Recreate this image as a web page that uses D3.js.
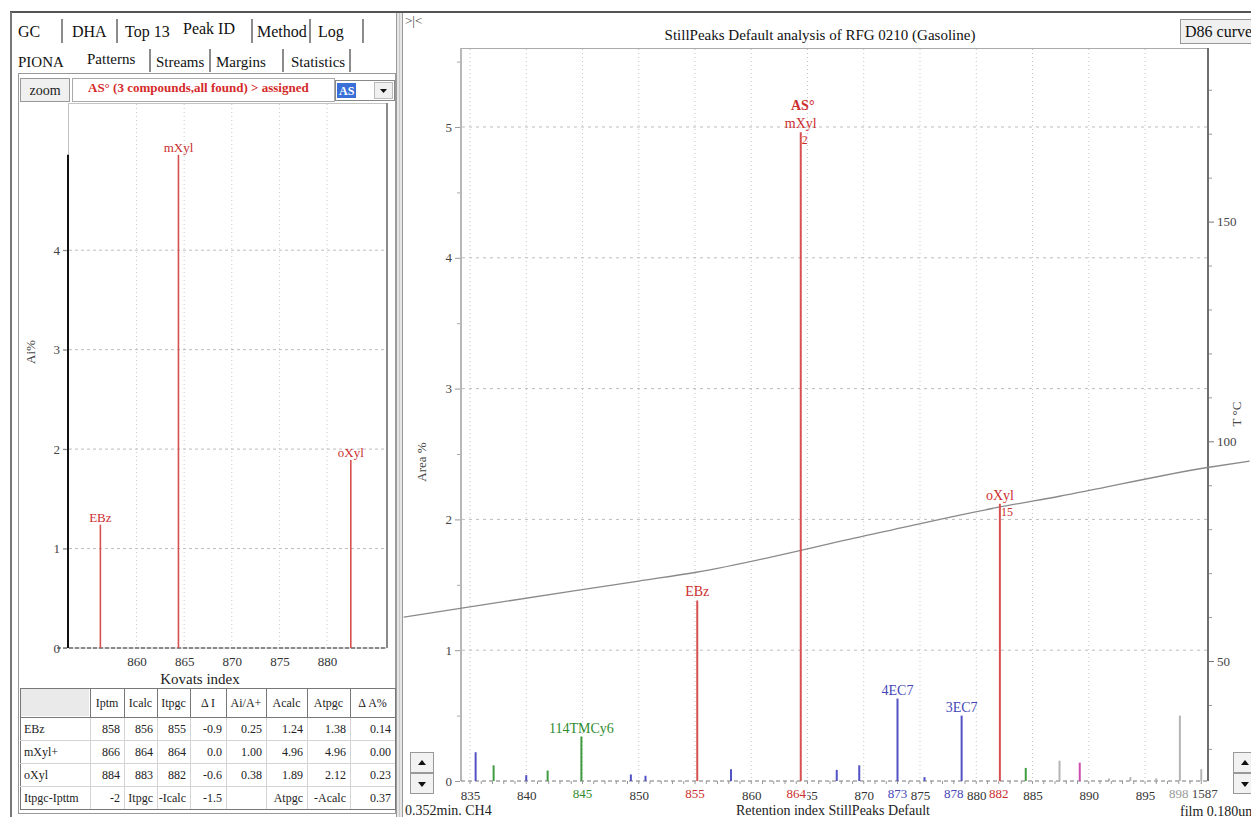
<!DOCTYPE html>
<html>
<head>
<meta charset="utf-8">
<script src="https://cdn.jsdelivr.net/npm/d3@7"></script>
<style>
body { margin: 0; background: #fff; }
svg { display: block; font-family: "Liberation Serif", "Times New Roman", serif; }
</style>
</head>
<body>
<svg id="chart" width="1251" height="817"></svg>
<script>
// ---- data ----
const mainTabs = ["GC", "DHA", "Top 13", "Peak ID", "Method", "Log"];
const subTabs = ["PIONA", "Patterns", "Streams", "Margins", "Statistics"];
const patternTitle = "AS° (3 compounds,all found) > assigned";
const patternCode = "AS";

// left pattern plot (Kovats index vs Ai%)
const patternNames = ["EBz", "mXyl", "oXyl"];
const patternKovats = [856.2, 864.4, 882.5];
const patternAi = [1.24, 4.96, 1.89];
const kovatsTicks = [860, 865, 870, 875, 880];
const aiTicks = [0, 1, 2, 3, 4];

// pattern table
const tableHeader = ["", "Iptm", "Icalc", "Itpgc", "Δ I", "Ai/A+", "Acalc", "Atpgc", "Δ A%"];
const tableRows = [
    ["EBz", "858", "856", "855", "-0.9", "0.25", "1.24", "1.38", "0.14"],
    ["mXyl+", "866", "864", "864", "0.0", "1.00", "4.96", "4.96", "0.00"],
    ["oXyl", "884", "883", "882", "-0.6", "0.38", "1.89", "2.12", "0.23"],
    ["Itpgc-Ipttm", "-2", "Itpgc", "-Icalc", "-1.5", "", "Atpgc", "-Acalc", "0.37"]
];

// main chromatogram (retention index vs Area %)
const peakIndex = [835.5, 837.1, 840.0, 841.9, 844.9, 849.3, 850.6, 855.2, 858.2, 864.4, 867.6, 869.6,
    873.0, 875.4, 878.7, 882.1, 884.4, 887.4, 889.2, 891.8, 893.7, 896.0, 898.1, 900.0];
const peakArea = [0.22, 0.12, 0.045, 0.08, 0.34, 0.05, 0.04, 1.38, 0.09, 4.96, 0.085, 0.12,
    0.63, 0.03, 0.50, 2.12, 0.10, 0.155, 0.14, 0.02, 0.03, 0.02, 0.50, 0.09];
const peakGroup = ["b", "g", "b", "g", "g", "b", "b", "r", "b", "r", "b", "b",
    "b", "b", "b", "r", "g", "k", "m", "k", "k", "k", "k", "k"];
const peakName = ["", "", "", "", "114TMCy6", "", "", "EBz", "", "mXyl", "", "",
    "4EC7", "", "3EC7", "oXyl", "", "", "", "", "", "", "", ""];
const peakNo = ["", "", "", "", "", "", "", "", "", "2", "", "",
    "", "", "", "15", "", "", "", "", "", "", "", ""];
const groupTitle = "AS°";
const groupTitlePeak = "mXyl";

const indexTicks = [835, 840, 845, 850, 855, 860, 865, 870, 875, 880, 885, 890, 895];
const idTicks = [845, 855, 864, 873, 878, 882, 898];
const idTickGroup = ["g", "r", "r", "b", "b", "r", "k"];
const endTickLabel = "1587";
const areaTicks = [0, 1, 2, 3, 4, 5];
const tempTicks = [50, 100, 150];

// oven temperature curve
const tempIndex = [829.1, 836.7, 850.0, 855.1, 869.6, 882.0, 887.4, 900.7, 904.3];
const tempValue = [60.0, 63.0, 68.2, 70.2, 78.2, 85.0, 87.5, 94.1, 95.5];

const chartTitle = "StillPeaks Default analysis of RFG 0210 (Gasoline)";

// ---- styling ----
const lineColor = { r: "#d65050", b: "#5252c4", g: "#3f9c3f", k: "#b4b4b4", m: "#cc4fb0" };
const textColor = { r: "#cc2e2e", b: "#4545b8", g: "#2f8c2f", k: "#9a9a9a", m: "#cc4fb0" };

const svg = d3.select("#chart");

// ---- window frame ----
svg.append("line").attr("x1", 10).attr("x2", 1251).attr("y1", 12).attr("y2", 12)
    .attr("stroke", "#555").attr("stroke-width", 2);
svg.append("line").attr("x1", 11).attr("x2", 11).attr("y1", 12).attr("y2", 817)
    .attr("stroke", "#777").attr("stroke-width", 2);
svg.append("rect").attr("x", 396).attr("y", 13).attr("width", 7).attr("height", 804)
    .attr("fill", "#e6e6e6");
[396.5, 399.5, 402.5].forEach(x => {
    svg.append("line").attr("x1", x).attr("x2", x).attr("y1", 13).attr("y2", 817)
        .attr("stroke", x === 399.5 ? "#c8c8c8" : "#9a9a9a");
});

// ---- tabs ----
const tabX = [18, 72, 125, 183, 257, 318];
const tabSep = [62, 117, 252, 310, 363];
mainTabs.forEach((t, i) => {
    svg.append("text").attr("x", tabX[i]).attr("y", t === "Peak ID" ? 34 : 37)
        .attr("font-size", 16).attr("fill", "#111").text(t);
});
tabSep.forEach(x => {
    svg.append("line").attr("x1", x).attr("x2", x).attr("y1", 19).attr("y2", 43)
        .attr("stroke", "#666").attr("stroke-width", 1.5);
});
const subX = [18, 87, 156, 216, 291];
const subSep = [150, 210, 283, 350];
subTabs.forEach((t, i) => {
    svg.append("text").attr("x", subX[i]).attr("y", t === "Patterns" ? 64 : 67)
        .attr("font-size", 15).attr("fill", "#111").text(t);
});
subSep.forEach(x => {
    svg.append("line").attr("x1", x).attr("x2", x).attr("y1", 49).attr("y2", 72)
        .attr("stroke", "#666").attr("stroke-width", 1.5);
});

// left panel box
svg.append("rect").attr("x", 18.5).attr("y", 73.5).attr("width", 377).attr("height", 740)
    .attr("fill", "none").attr("stroke", "#999");

// zoom button
svg.append("rect").attr("x", 20.5).attr("y", 78.5).attr("width", 49).attr("height", 23)
    .attr("fill", "#f0f0f0").attr("stroke", "#999");
svg.append("text").attr("x", 45).attr("y", 95).attr("text-anchor", "middle")
    .attr("font-size", 14).attr("fill", "#222").text("zoom");

// pattern title
svg.append("rect").attr("x", 72.5).attr("y", 78.5).attr("width", 262).attr("height", 23)
    .attr("fill", "#fff").attr("stroke", "#aaa");
svg.append("text").attr("x", 88).attr("y", 92).attr("font-size", 13).attr("font-weight", "bold")
    .attr("fill", "#d42a2a").text(patternTitle);

// dropdown
svg.append("rect").attr("x", 335.5).attr("y", 80.5).attr("width", 59).attr("height", 20)
    .attr("fill", "#fff").attr("stroke", "#888");
svg.append("rect").attr("x", 337).attr("y", 83).attr("width", 19).attr("height", 15).attr("fill", "#3a6fd8");
svg.append("text").attr("x", 339).attr("y", 95).attr("font-size", 12).attr("font-weight", "bold")
    .attr("fill", "#fff").text(patternCode);
svg.append("rect").attr("x", 374.5).attr("y", 82.5).attr("width", 18).attr("height", 16)
    .attr("fill", "#f0f0f0").attr("stroke", "#bbb");
svg.append("path").attr("d", "M380,89 L387,89 L383.5,93 Z").attr("fill", "#111");

// ---- left pattern plot ----
const kx = d3.scaleLinear().domain([852.8, 886.3]).range([68, 387]);
const ky = d3.scaleLinear().domain([0, 5.48]).range([648, 103]);
const left = svg.append("g");

left.append("rect").attr("x", 68.5).attr("y", 103.5).attr("width", 318).attr("height", 544.5)
    .attr("fill", "none").attr("stroke", "#c4c4c4");
left.append("line").attr("x1", 387).attr("x2", 387).attr("y1", 103).attr("y2", 648)
    .attr("stroke", "#8a8a8a").attr("stroke-width", 2);

// grid
left.selectAll(".kgrid").data(kovatsTicks).enter().append("line")
    .attr("x1", d => kx(d)).attr("x2", d => kx(d)).attr("y1", 104).attr("y2", 648)
    .attr("stroke", "#c8c8c8").attr("stroke-dasharray", "1,3");
left.selectAll(".agrid").data(aiTicks.filter(d => d > 0)).enter().append("line")
    .attr("x1", 63).attr("x2", 386).attr("y1", d => ky(d)).attr("y2", d => ky(d))
    .attr("stroke", "#bdbdbd").attr("stroke-dasharray", "3,3");

// axes
left.append("line").attr("x1", 68).attr("x2", 68).attr("y1", ky(0)).attr("y2", ky(d3.max(patternAi)))
    .attr("stroke", "#111").attr("stroke-width", 2);
left.append("line").attr("x1", 57).attr("x2", 387).attr("y1", ky(0)).attr("y2", ky(0))
    .attr("stroke", "#333").attr("stroke-dasharray", "4,2");
const kyAxis = d3.axisLeft(ky).tickValues(aiTicks).tickSize(4).tickFormat(d3.format("d"));
left.append("g").attr("transform", "translate(67,0)").call(kyAxis)
    .call(g => g.select(".domain").remove())
    .call(g => g.selectAll("text").attr("font-family", "Liberation Serif").attr("font-size", 13).attr("fill", "#444"))
    .call(g => g.selectAll("line").attr("stroke", "#888"));
const kxAxis = d3.axisBottom(kx).tickValues(kovatsTicks).tickSize(0).tickPadding(9).tickFormat(d3.format("d"));
left.append("g").attr("transform", "translate(0,648)").call(kxAxis)
    .call(g => g.select(".domain").remove())
    .call(g => g.selectAll("text").attr("font-family", "Liberation Serif").attr("font-size", 13).attr("fill", "#333"));
left.append("text").attr("x", 200).attr("y", 684).attr("text-anchor", "middle")
    .attr("font-size", 15).attr("fill", "#222").text("Kovats index");
left.append("text").attr("transform", "translate(35,352) rotate(-90)").attr("text-anchor", "middle")
    .attr("font-size", 13).attr("fill", "#444").text("Ai%");

// pattern sticks
left.selectAll(".pstick").data(patternNames).enter().append("line")
    .attr("x1", (d, i) => kx(patternKovats[i])).attr("x2", (d, i) => kx(patternKovats[i]))
    .attr("y1", ky(0)).attr("y2", (d, i) => ky(patternAi[i]))
    .attr("stroke", lineColor.r).attr("stroke-width", 1.6);
left.selectAll(".plabel").data(patternNames).enter().append("text")
    .attr("x", (d, i) => kx(patternKovats[i])).attr("y", (d, i) => ky(patternAi[i]) - 3)
    .attr("text-anchor", "middle").attr("font-size", 13).attr("fill", textColor.r).text(d => d);

// ---- table ----
const colX = [20, 90, 124, 157, 190, 226, 266, 307, 350, 395];
const rowY = [688, 717, 740, 763, 786, 809];
const table = svg.append("g").attr("font-size", 12);
table.append("rect").attr("x", colX[0] + 0.5).attr("y", rowY[0] + 0.5)
    .attr("width", colX[colX.length - 1] - colX[0]).attr("height", rowY[rowY.length - 1] - rowY[0])
    .attr("fill", "#fff").attr("stroke", "#777");
table.append("rect").attr("x", colX[0] + 1).attr("y", rowY[0] + 1)
    .attr("width", colX[1] - colX[0] - 2).attr("height", rowY[1] - rowY[0] - 2).attr("fill", "#eaeaea");
colX.slice(1, -1).forEach(x => {
    table.append("line").attr("x1", x + 0.5).attr("x2", x + 0.5).attr("y1", rowY[0]).attr("y2", rowY[1])
        .attr("stroke", "#777");
    table.append("line").attr("x1", x + 0.5).attr("x2", x + 0.5).attr("y1", rowY[1]).attr("y2", rowY[rowY.length - 1])
        .attr("stroke", "#d4d4d4");
});
table.append("line").attr("x1", colX[0]).attr("x2", colX[colX.length - 1])
    .attr("y1", rowY[1] + 0.5).attr("y2", rowY[1] + 0.5).attr("stroke", "#777");
rowY.slice(2, -1).forEach(y => {
    table.append("line").attr("x1", colX[0]).attr("x2", colX[colX.length - 1])
        .attr("y1", y + 0.5).attr("y2", y + 0.5).attr("stroke", "#d4d4d4");
});
tableHeader.forEach((h, c) => {
    table.append("text").attr("x", (colX[c] + colX[c + 1]) / 2).attr("y", (rowY[0] + rowY[1]) / 2 + 4)
        .attr("text-anchor", "middle").attr("fill", "#222").text(h);
});
tableRows.forEach((row, r) => {
    const y = (rowY[r + 1] + rowY[r + 2]) / 2 + 4;
    row.forEach((v, c) => {
        table.append("text")
            .attr("x", c === 0 ? colX[0] + 4 : colX[c + 1] - 4).attr("y", y)
            .attr("text-anchor", c === 0 ? "start" : "end").attr("fill", "#222").text(v);
    });
});

// ---- main chromatogram ----
const mx = d3.scaleLinear().domain([834.2, 900.6]).range([461, 1208]);
const my = d3.scaleLinear().domain([0, 5.604]).range([781, 48]);
const ty = d3.scaleLinear().domain([22.7, 189.5]).range([781, 48]);
const main = svg.append("g");

main.append("text").attr("x", 405).attr("y", 25).attr("font-size", 13).attr("fill", "#444").text(">|<");
main.append("text").attr("x", 820).attr("y", 40).attr("text-anchor", "middle")
    .attr("font-size", 15).attr("fill", "#111").text(chartTitle);

// D86 button
main.append("rect").attr("x", 1180.5).attr("y", 19.5).attr("width", 80).attr("height", 24)
    .attr("fill", "#f0f0f0").attr("stroke", "#999");
main.append("text").attr("x", 1185).attr("y", 37).attr("font-size", 16).attr("fill", "#111").text("D86 curve");

// frame
main.append("line").attr("x1", 461).attr("x2", 1208).attr("y1", 48.5).attr("y2", 48.5).attr("stroke", "#aaa");
main.append("line").attr("x1", 461).attr("x2", 461).attr("y1", 48).attr("y2", 781)
    .attr("stroke", "#b8b8b8").attr("stroke-width", 2);
main.append("line").attr("x1", 1208).attr("x2", 1208).attr("y1", 48).attr("y2", 781)
    .attr("stroke", "#6e6e6e").attr("stroke-width", 2);

// grid
main.selectAll(".vgrid").data(indexTicks).enter().append("line")
    .attr("x1", d => mx(d)).attr("x2", d => mx(d)).attr("y1", 49).attr("y2", 781)
    .attr("stroke", "#c4c4c4").attr("stroke-dasharray", "1,3");
main.selectAll(".hgrid").data(areaTicks.filter(d => d > 0)).enter().append("line")
    .attr("x1", 462).attr("x2", 1207).attr("y1", d => my(d)).attr("y2", d => my(d))
    .attr("stroke", "#bdbdbd").attr("stroke-dasharray", "3,4");

// baseline
main.append("line").attr("x1", 461).attr("x2", 1208).attr("y1", 781).attr("y2", 781)
    .attr("stroke", "#777").attr("stroke-dasharray", "4,3");
main.selectAll(".mtick").data(d3.range(835, 901)).enter().append("line")
    .attr("x1", d => mx(d)).attr("x2", d => mx(d)).attr("y1", 781).attr("y2", 784)
    .attr("stroke", "#999");

// left axis
const myAxis = d3.axisLeft(my).tickValues(areaTicks).tickSize(5).tickFormat(d3.format("d"));
main.append("g").attr("transform", "translate(460,0)").call(myAxis)
    .call(g => g.select(".domain").remove())
    .call(g => g.selectAll("text").attr("font-family", "Liberation Serif").attr("font-size", 13).attr("fill", "#444"))
    .call(g => g.selectAll("line").attr("stroke", "#999"));
main.append("g").attr("transform", "translate(460,0)")
    .call(d3.axisLeft(my).tickValues(d3.range(0.5, 5.6, 1)).tickSize(3).tickFormat(""))
    .call(g => g.select(".domain").remove())
    .call(g => g.selectAll("line").attr("stroke", "#aaa"));
main.append("text").attr("transform", "translate(426,462) rotate(-90)").attr("text-anchor", "middle")
    .attr("font-size", 13).attr("fill", "#444").text("Area %");

// right temperature axis
const tyAxis = d3.axisRight(ty).tickValues(tempTicks).tickSize(5).tickFormat(d3.format("d"));
main.append("g").attr("transform", "translate(1209,0)").call(tyAxis)
    .call(g => g.select(".domain").remove())
    .call(g => g.selectAll("text").attr("font-family", "Liberation Serif").attr("font-size", 13).attr("fill", "#444"))
    .call(g => g.selectAll("line").attr("stroke", "#777"));
main.append("g").attr("transform", "translate(1209,0)")
    .call(d3.axisRight(ty).tickValues(d3.range(30, 190, 10).filter(d => d % 50 !== 0)).tickSize(3).tickFormat(""))
    .call(g => g.select(".domain").remove())
    .call(g => g.selectAll("line").attr("stroke", "#999"));
main.append("text").attr("transform", "translate(1241,414) rotate(-90)").attr("text-anchor", "middle")
    .attr("font-size", 13).attr("fill", "#444").text("T °C");

// temperature curve
const tempLine = d3.line().x(d => mx(d[0])).y(d => ty(d[1])).curve(d3.curveMonotoneX);
main.append("path").datum(tempIndex.map((t, i) => [t, tempValue[i]]))
    .attr("d", tempLine).attr("fill", "none").attr("stroke", "#8a8a8a").attr("stroke-width", 1.3);

// peaks
main.selectAll(".peak").data(peakIndex).enter().append("line")
    .attr("x1", d => mx(d)).attr("x2", d => mx(d))
    .attr("y1", my(0)).attr("y2", (d, i) => my(peakArea[i]))
    .attr("stroke", (d, i) => lineColor[peakGroup[i]]).attr("stroke-width", 2);

peakIndex.forEach((p, i) => {
    if (!peakName[i]) return;
    const x = mx(p), top = my(peakArea[i]);
    const col = textColor[peakGroup[i]];
    main.append("text").attr("x", x).attr("y", top - 4).attr("text-anchor", "middle")
        .attr("font-size", 14).attr("fill", col).text(peakName[i]);
    if (peakNo[i]) {
        main.append("text").attr("x", x + 1).attr("y", top + 12)
            .attr("text-anchor", "start").attr("font-size", 12).attr("fill", col).text(peakNo[i]);
    }
    if (peakName[i] === groupTitlePeak) {
        main.append("text").attr("x", x + 2).attr("y", top - 22).attr("text-anchor", "middle")
            .attr("font-size", 14).attr("font-weight", "bold").attr("fill", col).text(groupTitle);
    }
});

// x tick labels (plain, then coloured peak indices on top)
const mxAxis = d3.axisBottom(mx).tickValues(indexTicks.filter(d => !idTicks.includes(d)))
    .tickSize(0).tickPadding(10).tickFormat(d3.format("d"));
main.append("g").attr("transform", "translate(0,781)").call(mxAxis)
    .call(g => g.select(".domain").remove())
    .call(g => g.selectAll("text").attr("font-family", "Liberation Serif").attr("font-size", 13).attr("fill", "#333"));
idTicks.forEach((t, i) => {
    const x = mx(t);
    const lbl = main.append("text").attr("x", x).attr("y", 798).attr("text-anchor", "middle")
        .attr("font-size", 13).attr("fill", textColor[idTickGroup[i]]).text(t);
    const w = lbl.node().getComputedTextLength();
    main.insert("rect", () => lbl.node()).attr("x", x - w / 2 - 1).attr("y", 787)
        .attr("width", w + 2).attr("height", 14).attr("fill", "#fff");
});
main.append("text").attr("x", mx(900.3)).attr("y", 798).attr("text-anchor", "middle")
    .attr("font-size", 13).attr("fill", "#444").text(endTickLabel);

// spinners
[[410, 752], [1233, 752]].forEach(([x, y]) => {
    main.append("rect").attr("x", x + 0.5).attr("y", y + 0.5).attr("width", 23).attr("height", 20)
        .attr("fill", "#f2f2f2").attr("stroke", "#999");
    main.append("rect").attr("x", x + 0.5).attr("y", y + 21.5).attr("width", 23).attr("height", 20)
        .attr("fill", "#f2f2f2").attr("stroke", "#999");
    main.append("path").attr("d", `M${x + 8},${y + 13} L${x + 16},${y + 13} L${x + 12},${y + 8} Z`).attr("fill", "#111");
    main.append("path").attr("d", `M${x + 8},${y + 30} L${x + 16},${y + 30} L${x + 12},${y + 35} Z`).attr("fill", "#111");
});

// bottom captions
main.append("text").attr("x", 405).attr("y", 815).attr("font-size", 14).attr("fill", "#222").text("0.352min. CH4");
main.append("text").attr("x", 833).attr("y", 815).attr("text-anchor", "middle")
    .attr("font-size", 14).attr("fill", "#222").text("Retention index StillPeaks Default");
main.append("text").attr("x", 1180).attr("y", 816).attr("font-size", 14).attr("fill", "#222").text("film 0.180um");
</script>
</body>
</html>
